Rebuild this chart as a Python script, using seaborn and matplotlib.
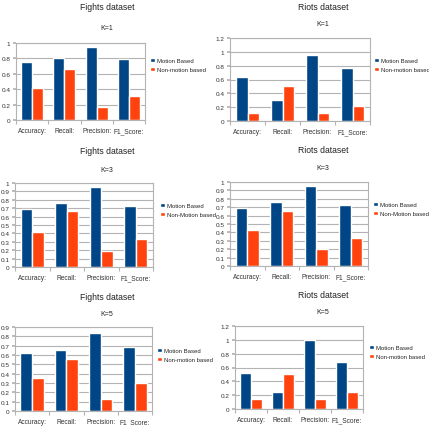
import matplotlib
matplotlib.use("Agg")
import matplotlib.pyplot as plt
import seaborn as sns
import pandas as pd
from matplotlib.ticker import FixedLocator, FuncFormatter

metrics = ["Accuracy:", "Recall:", "Precision:", "F1_Score:"]

fights_k1_motion = [0.75, 0.80, 0.95, 0.79]
fights_k1_non = [0.41, 0.66, 0.17, 0.31]
riots_k1_motion = [0.63, 0.31, 0.96, 0.77]
riots_k1_non = [0.11, 0.50, 0.11, 0.21]
fights_k3_motion = [0.69, 0.76, 0.95, 0.73]
fights_k3_non = [0.42, 0.67, 0.19, 0.33]
riots_k3_motion = [0.69, 0.76, 0.95, 0.73]
riots_k3_non = [0.43, 0.66, 0.20, 0.33]
fights_k5_motion = [0.62, 0.65, 0.84, 0.69]
fights_k5_non = [0.35, 0.56, 0.13, 0.30]
riots_k5_motion = [0.52, 0.25, 1.00, 0.68]
riots_k5_non = [0.14, 0.51, 0.14, 0.25]

y_ticks_1 = [0, 0.2, 0.4, 0.6, 0.8, 1]
y_ticks_12 = [0, 0.2, 0.4, 0.6, 0.8, 1, 1.2]
y_ticks_10 = [0, 0.1, 0.2, 0.3, 0.4, 0.5, 0.6, 0.7, 0.8, 0.9, 1]
y_ticks_09 = [0, 0.1, 0.2, 0.3, 0.4, 0.5, 0.6, 0.7, 0.8, 0.9]

sns.set_theme(style="white")
plt.rcParams["font.family"] = ["Liberation Sans", "DejaVu Sans"]

W, H = 429, 427
fig = plt.figure(figsize=(W / 100, H / 100), dpi=100)

BLUE = "#004586"
ORANGE = "#ff420e"
GRID = "#b3b3b3"

panels = [
    ("Fights dataset", "K=1", fights_k1_motion, fights_k1_non, "Non-motion based", y_ticks_1,
     (16, 145, 44, 121), (150, 66), (107, 8), 29),
    ("Riots dataset", "K=1", riots_k1_motion, riots_k1_non, "Non-motion based", y_ticks_12,
     (230, 370, 39, 122), (374, 66), (323, 7), 25),
    ("Fights dataset", "K=3", fights_k3_motion, fights_k3_non, "Non-Motion based", y_ticks_10,
     (15, 153, 184, 268), (160, 211), (107, 152), 170),
    ("Riots dataset", "K=3", riots_k3_motion, riots_k3_non, "Non-Motion based", y_ticks_10,
     (230, 368, 183, 267), (373, 210), (323, 151), 168),
    ("Fights dataset", "K=5", fights_k5_motion, fights_k5_non, "Non-motion based", y_ticks_09,
     (15, 152, 328, 412), (157, 356), (107, 297), 314),
    ("Riots dataset", "K=5", riots_k5_motion, riots_k5_non, "Non-motion based", y_ticks_12,
     (235, 363, 327, 410), (369, 353), (323, 296), 313),
]

fmt = FuncFormatter(lambda v, p: f"{v:g}")

for title, k, motion, non, non_label, ticks, box, leg, tpos, ky in panels:
    l, r, t, b = box
    ax = fig.add_axes([l / W, 1 - b / H, (r - l) / W, (b - t) / H])
    df = pd.DataFrame({
        "metric": metrics * 2,
        "value": motion + non,
        "series": ["Motion Based"] * 4 + [non_label] * 4,
    })
    sns.barplot(data=df, x="metric", y="value", hue="series",
                palette=[BLUE, ORANGE], width=0.68, ax=ax, saturation=1)
    ax.set_ylim(0, ticks[-1])
    ax.yaxis.set_major_locator(FixedLocator(ticks))
    ax.yaxis.set_major_formatter(fmt)
    ax.set_xlim(-0.5, 3.5)
    ax.set_xlabel("")
    ax.set_ylabel("")
    ax.grid(axis="y", color=GRID, linewidth=0.8)
    ax.set_axisbelow(True)
    for s in ax.spines.values():
        s.set_color(GRID)
        s.set_linewidth(0.8)
    ax.xaxis.set_minor_locator(FixedLocator([-0.5, 0.5, 1.5, 2.5, 3.5]))
    ax.tick_params(axis="x", which="major", length=0, labelsize=4.8, pad=5, colors="#333333")
    ax.tick_params(axis="x", which="minor", length=3, color=GRID, width=0.8, bottom=True)
    ax.tick_params(axis="y", labelsize=4.6, length=2, color=GRID, pad=2, left=True, labelcolor="#333333")
    handles, labels = ax.get_legend_handles_labels()
    ax.legend(handles, labels, loc="center left",
              bbox_to_anchor=(leg[0] / W, 1 - leg[1] / H), bbox_transform=fig.transFigure,
              frameon=False, fontsize=4.3, handlelength=0.8, handleheight=0.8,
              handletextpad=0.3, labelspacing=0.6, borderaxespad=0, borderpad=0)
    fig.text(tpos[0] / W, 1 - tpos[1] / H, title, ha="center", va="center", fontsize=6.2, color="#222222")
    fig.text(tpos[0] / W, 1 - ky / H, k, ha="center", va="center", fontsize=5, color="#222222")

fig.savefig("out.png", dpi=100, facecolor="white")
